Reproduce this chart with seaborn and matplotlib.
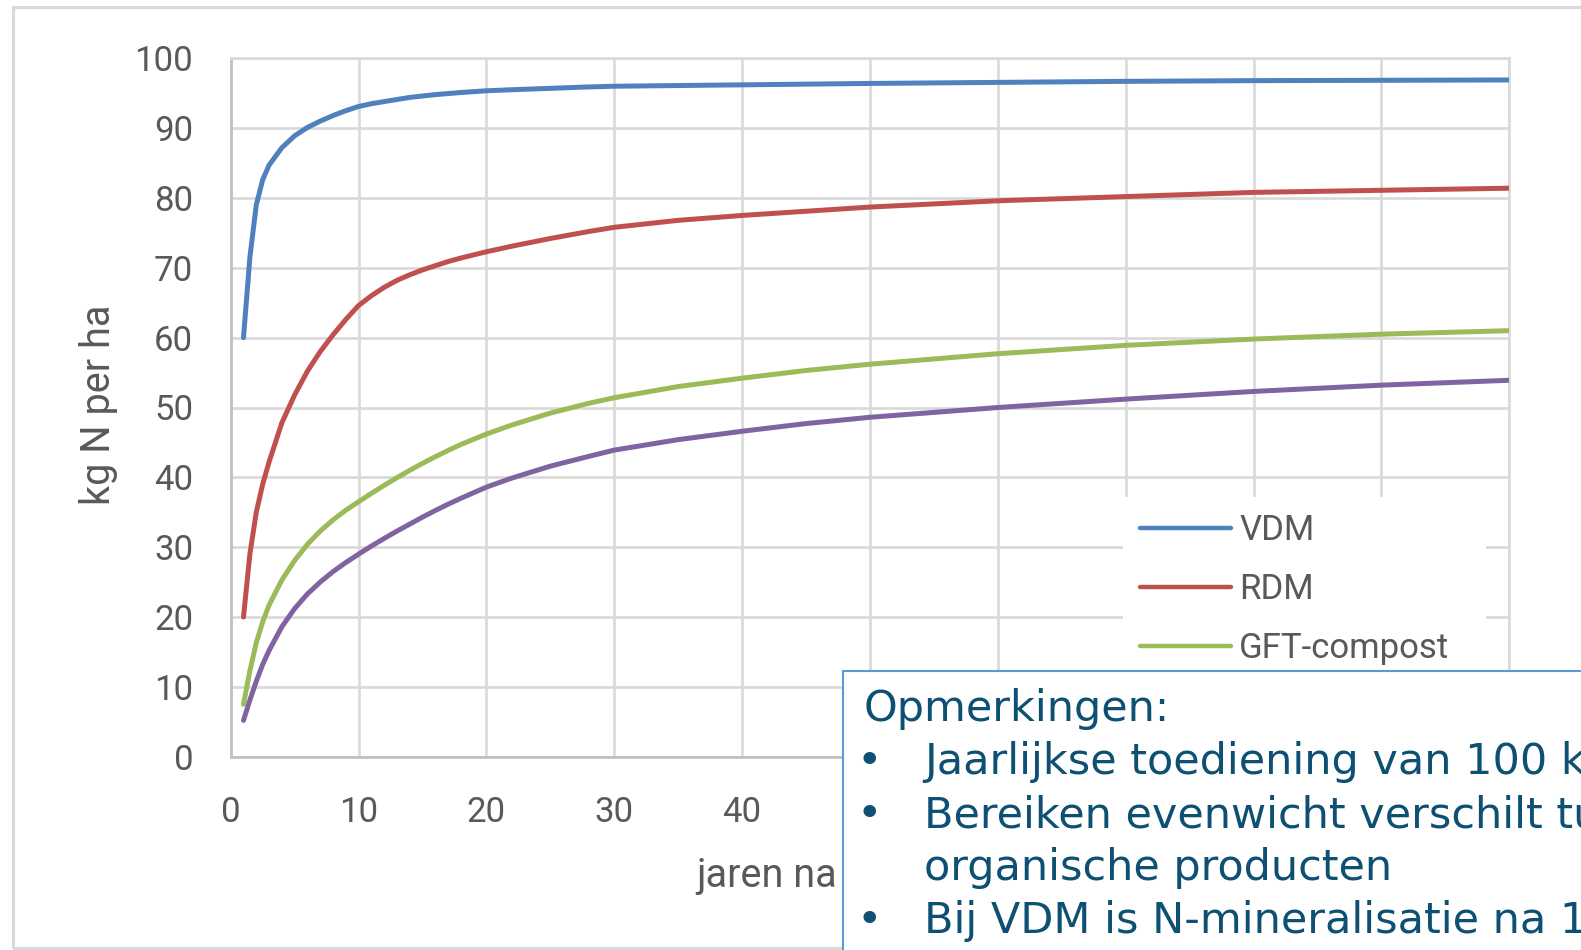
import matplotlib
matplotlib.use("Agg")
import matplotlib.pyplot as plt
from matplotlib.patches import Rectangle
import pandas as pd
import seaborn as sns

# Cumulative N mineralisation (kg N per ha) after yearly application
jaren = [1, 1.5, 2, 2.5, 3, 4, 5, 6, 7, 8, 9, 10, 11, 12, 13, 14, 15, 16, 17, 18,
         20, 22, 25, 28, 30, 35, 40, 45, 50, 60, 70, 80, 90, 100]
vdm = [60.0, 71.5, 79.0, 82.6, 84.7, 87.2, 88.9, 90.1, 91.0, 91.8, 92.5, 93.1,
       93.5, 93.8, 94.1, 94.4, 94.6, 94.8, 94.95, 95.1, 95.35, 95.5, 95.7, 95.9,
       96.0, 96.1, 96.2, 96.3, 96.4, 96.55, 96.7, 96.8, 96.85, 96.9]
rdm = [20.0, 29.0, 35.0, 39.0, 42.2, 47.8, 51.8, 55.2, 58.0, 60.4, 62.6, 64.6,
       66.0, 67.2, 68.2, 69.0, 69.7, 70.3, 70.9, 71.4, 72.3, 73.1, 74.2, 75.2,
       75.8, 76.8, 77.5, 78.1, 78.7, 79.6, 80.2, 80.8, 81.1, 81.4]
gft = [7.5, 12.3, 16.3, 19.3, 21.7, 25.3, 28.1, 30.4, 32.3, 33.9, 35.3, 36.5,
       37.7, 38.85, 39.95, 41.0, 42.0, 42.95, 43.85, 44.7, 46.2, 47.5, 49.2, 50.6,
       51.4, 53.0, 54.2, 55.3, 56.2, 57.7, 58.9, 59.8, 60.5, 61.0]
groen = [5.2, 8.1, 10.8, 13.2, 15.2, 18.6, 21.2, 23.3, 25.0, 26.5, 27.8, 29.0,
         30.15, 31.25, 32.3, 33.3, 34.3, 35.25, 36.15, 37.0, 38.6, 39.9, 41.6, 43.0,
         43.9, 45.4, 46.6, 47.7, 48.6, 50.0, 51.2, 52.3, 53.2, 53.9]

producten = ["VDM", "RDM", "GFT-compost", "Groencompost"]
kleuren = ["#4F81BD", "#C0504D", "#9BBB59", "#8064A2"]
x_ticks = list(range(0, 101, 10))
y_ticks = list(range(0, 101, 10))
# tick labels to the right of 40 sit under the remarks box
x_ticklabels = [str(v) if v <= 40 else "" for v in x_ticks]

x_titel = "jaren na toediening"
y_titel = "kg N per ha"
kop = "Opmerkingen:"
punten = [
    ("•", "Jaarlijkse toediening van 100 kg N per ha"),
    ("•", "Bereiken evenwicht verschilt tussen de"),
    ("", "organische producten"),
    ("•", "Bij VDM is N-mineralisatie na 10 jaar al bijna maximaal"),
]

W, H = 1581, 950
sns.set_theme(style="white")
plt.rcParams["font.family"] = ["Roboto", "DejaVu Sans"]

fig = plt.figure(figsize=(W / 100, H / 100), dpi=100)


def fx(px):
    return px / W


def fy(py):
    return 1 - py / H


ax_l, ax_r, ax_t, ax_b = 230.7, 1509.3, 58.3, 756.7
ax = fig.add_axes([fx(ax_l), fy(ax_b), (ax_r - ax_l) / W, (ax_b - ax_t) / H])

df = pd.DataFrame({
    "jaar": jaren * len(producten),
    "N": vdm + rdm + gft + groen,
    "product": [p for p in producten for _ in jaren],
})

sns.lineplot(data=df, x="jaar", y="N", hue="product", hue_order=producten,
             palette=kleuren, linewidth=3.6, solid_capstyle="round",
             solid_joinstyle="round", ax=ax, zorder=3)

ax.set_xlim(0, 100)
ax.set_ylim(0, 100)
ax.set_xticks(x_ticks, labels=x_ticklabels)
ax.set_yticks(y_ticks)
ax.grid(True, color="#d9d9d9", linewidth=1.9)
ax.set_axisbelow(True)
for side in ["top", "right"]:
    ax.spines[side].set_color("#d9d9d9")
    ax.spines[side].set_linewidth(1.9)
for side in ["left", "bottom"]:
    ax.spines[side].set_color("#bfbfbf")
    ax.spines[side].set_linewidth(1.9)

ax.tick_params(axis="both", length=0, labelsize=25, labelcolor="#595959")
ax.tick_params(axis="y", pad=27)
ax.tick_params(axis="x", pad=28)

ax.set_xlabel(x_titel, fontsize=28.5, color="#595959", ha="left", va="baseline")
ax.xaxis.set_label_coords((696.7 - ax_l) / (ax_r - ax_l), -(886.7 - ax_b) / (ax_b - ax_t))
ax.set_ylabel(y_titel, fontsize=28.5, color="#595959", va="baseline")
ax.yaxis.set_label_coords((110 - ax_l) / (ax_r - ax_l), (ax_b - 405) / (ax_b - ax_t))

handles, labels = ax.get_legend_handles_labels()
for h in handles:
    h.set_linewidth(3.2)
leg = ax.legend(handles, labels, loc="upper left",
                bbox_to_anchor=((1123 - ax_l) / (ax_r - ax_l), (ax_b - 497) / (ax_b - ax_t)),
                borderaxespad=0, frameon=True, fancybox=False, facecolor="white",
                edgecolor="none", framealpha=1, fontsize=25, labelcolor="#595959",
                handlelength=2.6, handletextpad=0.25, labelspacing=0.75, borderpad=0.5)
leg.set_zorder(5)

# outer chart frame
fig.add_artist(Rectangle((fx(12.5), fy(948)), 1.2, fy(7.3) - fy(948),
                         transform=fig.transFigure, fill=False,
                         edgecolor="#d9d9d9", linewidth=2.2, zorder=0))

# remarks box
tekstkleur = "#0d5073"
fig.add_artist(Rectangle((fx(843), fy(1000)), 1.0, fy(671) - fy(1000),
                         transform=fig.transFigure, facecolor="white",
                         edgecolor="#5b9bd5", linewidth=1.5, zorder=10))
fig.text(fx(863.7), fy(720.7), kop, fontsize=31, color=tekstkleur,
         family="DejaVu Sans", ha="left", va="baseline", zorder=11)
for i, (bullet, regel) in enumerate(punten):
    y = fy(774 + i * 53.1)
    if bullet:
        fig.text(fx(869), y, bullet, fontsize=31, color=tekstkleur,
                 family="DejaVu Sans", ha="center", va="baseline", zorder=11)
    fig.text(fx(924.4), y, regel, fontsize=31, color=tekstkleur,
             family="DejaVu Sans", ha="left", va="baseline", zorder=11)

fig.savefig("out.png", dpi=100)
